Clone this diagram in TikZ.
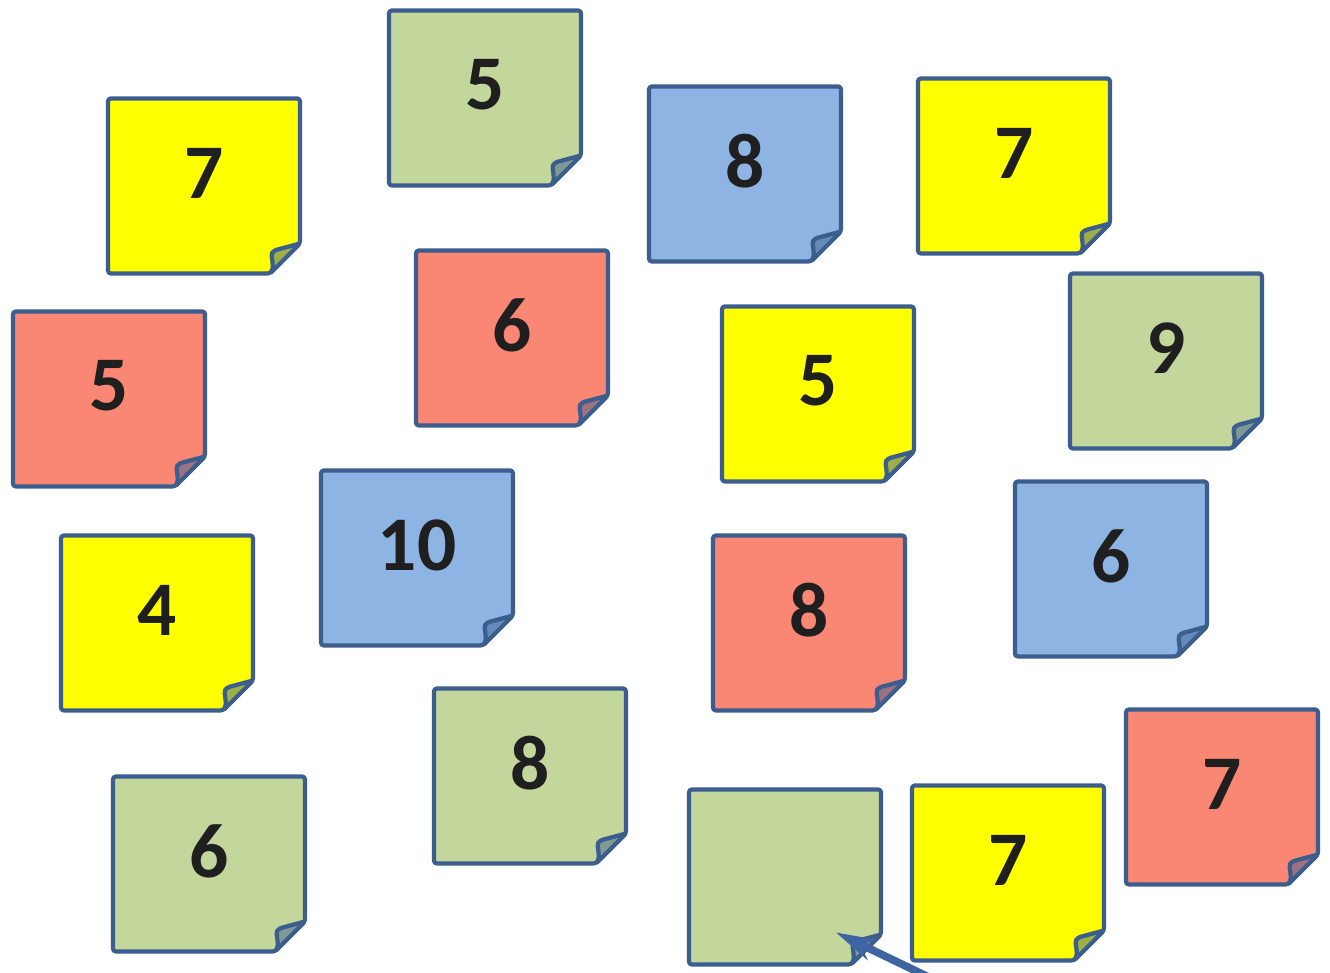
\documentclass[tikz,border=0pt]{standalone}
\usepackage{fontspec}
\setsansfont{Carlito}
\usepackage{tikz}
\usetikzlibrary{arrows.meta}
\usepackage{xcolor}

\definecolor{postityellow}{HTML}{FFFF00}
\definecolor{postitgreen}{HTML}{C3D69B}
\definecolor{postitblue}{HTML}{8EB4E3}
\definecolor{postitred}{HTML}{FA8674}
\definecolor{postitbd}{HTML}{3B5E8F}
\definecolor{pointer}{HTML}{3F64A3}

% name, centre, fill, number
\newcommand{\postit}[4]{%
\node[postit] (#1) at (#2) {};
\filldraw[postit edge,fill=#3] (#1.north west) -- (#1.north east) -- ([yshift=3mm]#1.south east) -- ([xshift=-3mm]#1.south east) -- (#1.south west) -- cycle;
\filldraw[postit edge,fill=#3!50!postitbd] ([xshift=-3mm]#1.south east) .. controls ([shift={(-2.5mm,0.8mm)}]#1.south east) and ([shift={(-3mm,1.8mm)}]#1.south east) .. ([shift={(-2.6mm,2.3mm)}]#1.south east) -- ([yshift=3mm]#1.south east) -- cycle;
\node[postit text] (#1-num) at ([yshift=1.3mm]#1.center) {#4};
}

\begin{document}
\begin{tikzpicture}[>={Stealth[length=4mm,width=2.2mm]},line cap=round,
  postit/.style={minimum width=1.92cm,minimum height=1.75cm,inner sep=0,outer sep=0},
  postit edge/.style={draw=postitbd,line width=1.2pt,line join=round,rounded corners=0.8pt},
  postit text/.style={font=\sffamily\bfseries\fontsize{22}{26}\selectfont,text=black!88}]
\fill[white] (0,0) rectangle (13.3,9.73);
\useasboundingbox (0,0) rectangle (13.3,9.73);
% top rows
\postit{y1}{2.04,7.87}{postityellow}{7}
\postit{g1}{4.85,8.75}{postitgreen}{5}
\postit{b1}{7.45,7.99}{postitblue}{8}
\postit{y2}{10.14,8.07}{postityellow}{7}
\postit{r1}{1.09,5.74}{postitred}{5}
\postit{r2}{5.12,6.35}{postitred}{6}
\postit{y3}{8.18,5.79}{postityellow}{5}
\postit{g2}{11.66,6.12}{postitgreen}{9}
% middle row
\postit{y4}{1.57,3.50}{postityellow}{4}
\postit{b2}{4.17,4.15}{postitblue}{10}
\postit{r3}{8.09,3.50}{postitred}{8}
\postit{b3}{11.11,4.04}{postitblue}{6}
% bottom rows
\postit{g3}{5.30,1.97}{postitgreen}{8}
\postit{g4}{2.09,1.09}{postitgreen}{6}
\postit{g5}{7.85,0.96}{postitgreen}{}
\postit{y5}{10.08,1.00}{postityellow}{7}
\postit{r4}{12.22,1.76}{postitred}{7}
% pointer into the empty note
\coordinate (from) at (9.45,-0.12);
\draw[->,pointer,line width=2.2pt] (from) -- ([shift={(-0.45,0.32)}]g5.south east);
\end{tikzpicture}
\end{document}
